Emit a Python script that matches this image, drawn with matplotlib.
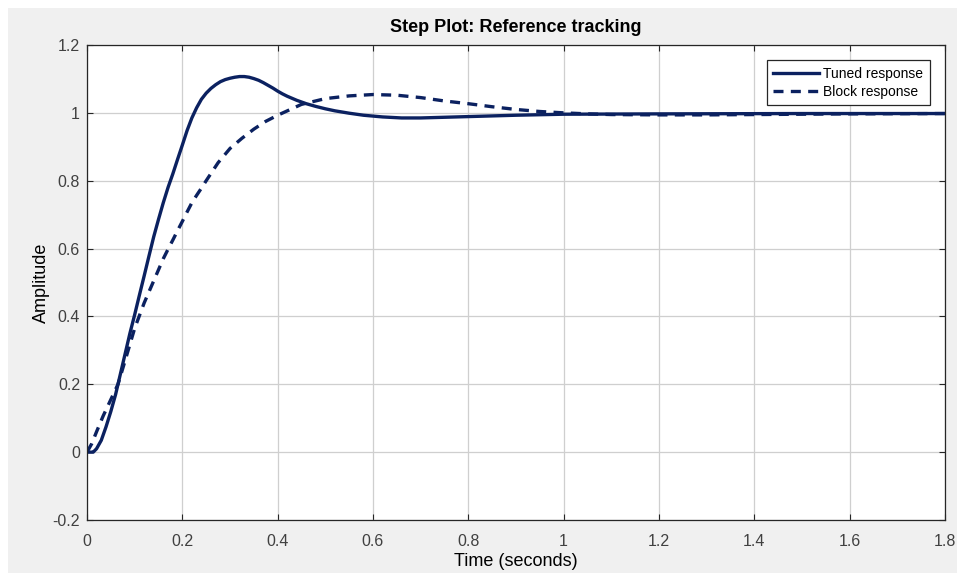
import numpy as np
import matplotlib
matplotlib.use('Agg')
import matplotlib.pyplot as plt
from matplotlib.patches import Rectangle

plt.rcParams['font.family'] = ['Liberation Sans', 'DejaVu Sans']

# values
tTuned = [0, 0.01, 0.013, 0.02, 0.03, 0.04, 0.05, 0.06, 0.07, 0.08, 0.09, 0.10,
          0.11, 0.12, 0.13, 0.14, 0.15, 0.16, 0.17, 0.18, 0.19, 0.20, 0.21,
          0.22, 0.23, 0.24, 0.25, 0.26, 0.27, 0.28, 0.29, 0.30, 0.31, 0.32,
          0.33, 0.34, 0.35, 0.36, 0.37, 0.38, 0.39, 0.40, 0.41, 0.42, 0.43,
          0.44, 0.45, 0.46, 0.48, 0.50, 0.52, 0.55, 0.58, 0.62, 0.66, 0.70,
          0.75, 0.80, 0.90, 1.00, 1.20, 1.50, 1.80]
yTuned = [0, 0, 0, 0.01, 0.035, 0.075, 0.12, 0.17, 0.23, 0.29, 0.35, 0.405,
          0.463, 0.52, 0.578, 0.635, 0.686, 0.735, 0.78, 0.82, 0.863, 0.905, 0.948,
          0.985, 1.015, 1.04, 1.058, 1.072, 1.083, 1.092, 1.098, 1.102, 1.105, 1.107,
          1.107, 1.105, 1.101, 1.096, 1.089, 1.081, 1.073, 1.064, 1.056, 1.049, 1.043,
          1.037, 1.032, 1.027, 1.019, 1.012, 1.006, 0.999, 0.993, 0.988, 0.985, 0.985,
          0.987, 0.989, 0.993, 0.996, 0.997, 0.998, 0.998]

tBlock = [0, 0.01, 0.02, 0.034, 0.05, 0.065, 0.08, 0.10, 0.12, 0.14, 0.16,
          0.17, 0.18, 0.19, 0.20, 0.21, 0.22, 0.23, 0.24, 0.25, 0.275, 0.30,
          0.325, 0.35, 0.375, 0.40, 0.45, 0.50, 0.55, 0.60, 0.65, 0.70, 0.75,
          0.80, 0.85, 0.90, 0.95, 1.00, 1.05, 1.10, 1.20, 1.30, 1.40, 1.50,
          1.60, 1.80]
yBlock = [0, 0.025, 0.06, 0.107, 0.155, 0.2, 0.27, 0.365, 0.44, 0.505, 0.57,
          0.598, 0.625, 0.653, 0.68, 0.708, 0.735, 0.757, 0.778, 0.80, 0.853, 0.895,
          0.925, 0.952, 0.975, 0.993, 1.025, 1.042, 1.05, 1.054, 1.052, 1.045, 1.035,
          1.027, 1.018, 1.01, 1.004, 1.0, 0.997, 0.995, 0.994, 0.994, 0.995, 0.996,
          0.997, 0.998]

xTicks = [0, 0.2, 0.4, 0.6, 0.8, 1, 1.2, 1.4, 1.6, 1.8]
xTickLabels = ['0', '0.2', '0.4', '0.6', '0.8', '1', '1.2', '1.4', '1.6', '1.8']
yTicks = [-0.2, 0, 0.2, 0.4, 0.6, 0.8, 1, 1.2]
yTickLabels = ['-0.2', '0', '0.2', '0.4', '0.6', '0.8', '1', '1.2']

lineColor = '#0b2160'

fig = plt.figure(figsize=(9.57, 5.73), dpi=100)
fig.patch.set_facecolor('white')
fig.patches.append(Rectangle((8/957, 0), 1, 1 - 8/573, transform=fig.transFigure,
                             facecolor='#f0f0f0', edgecolor='none', zorder=-10))

ax = fig.add_axes([87/957, 53/573, 858/957, 475/573])
ax.set_facecolor('white')
ax.plot(tTuned, yTuned, '-', color=lineColor, lw=2.4, label='Tuned response')
ax.plot(tBlock, yBlock, '--', color=lineColor, lw=2.4, dashes=(3.0, 2.2),
        label='Block response')

ax.set_xlim(0, 1.8)
ax.set_ylim(-0.2, 1.2)
ax.set_xticks(xTicks)
ax.set_xticklabels(xTickLabels)
ax.set_yticks(yTicks)
ax.set_yticklabels(yTickLabels)
ax.grid(True, color='#cfcfcf', lw=0.9)
ax.set_axisbelow(True)
ax.tick_params(direction='in', top=True, right=True, length=4, width=0.8,
               colors='#262626', labelsize=11.5, labelcolor='#404040')
ax.tick_params(axis='x', pad=10)
ax.tick_params(axis='y', pad=5)
for s in ax.spines.values():
    s.set_color('#262626')
    s.set_linewidth(0.9)

ax.set_title('Step Plot: Reference tracking', fontsize=13, fontweight='bold', pad=9)
ax.set_xlabel('Time (seconds)', fontsize=13, labelpad=3)
ax.set_ylabel('Amplitude', fontsize=13, labelpad=2)

leg = ax.legend(loc='upper right', fontsize=10, fancybox=False, framealpha=1,
                edgecolor='#262626', handlelength=3.3, borderpad=0.45,
                labelspacing=0.3, handletextpad=0.3, borderaxespad=1.1)
leg.get_frame().set_linewidth(0.9)

fig.savefig('out.png', dpi=100, facecolor=fig.get_facecolor())
